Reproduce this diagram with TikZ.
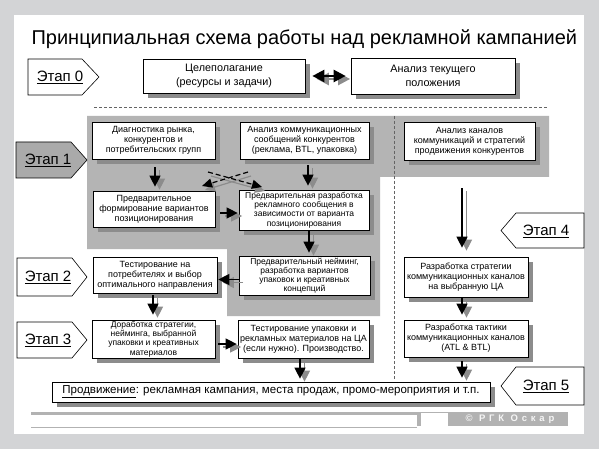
\documentclass[tikz,border=0pt]{standalone}
\usepackage{fontspec}
\setmainfont{Liberation Sans}
\newfontfamily\spacedfont[LetterSpace=40]{Liberation Sans}
\usetikzlibrary{arrows.meta,shadows}
\definecolor{outerbg}{RGB}{211,212,214}
\definecolor{regiongray}{RGB}{180,180,180}
\definecolor{etapgray}{RGB}{170,170,170}
\definecolor{shgray}{RGB}{140,140,140}
\definecolor{stripgray}{RGB}{178,178,178}
\definecolor{dashgray}{RGB}{100,100,100}
\tikzset{
  box/.style={draw=black, fill=white, line width=0.7pt, inner sep=1pt, align=center,
     font=\fontsize{9}{10}\selectfont,
     general shadow={fill=shgray, shadow xshift=5pt, shadow yshift=-5pt}},
  boxfour/.style={box, font=\fontsize{8.5}{9.2}\selectfont},
  bigbox/.style={box, font=\fontsize{10.8}{14.5}\selectfont},
  arr/.style={line width=1.3pt, -{Triangle[width=11pt,length=11pt]}, shorten >=4pt, shorten <=5pt},
  arrsh/.style={draw=shgray},
  etap/.style={draw=black, line width=0.6pt, fill=white},
  etaptext/.style={font=\fontsize{15}{16}\selectfont},
  dashline/.style={draw=dashgray, line width=0.6pt, dash pattern=on 3pt off 2pt},
}
\newcommand\sarr[3][]{%
  \draw[arr,arrsh,#1,transform canvas={shift={(4.5pt,-3pt)}}] #2 -- #3;
  \draw[arr,#1] #2 -- #3;}
\begin{document}
\begin{tikzpicture}[x=1pt,y=-1pt]
\useasboundingbox (0,0) rectangle (599,449);
% backgrounds
\fill[outerbg] (0,0) rectangle (599,449);
\fill[white] (14,15) rectangle (584,434);
\fill[regiongray] (87,116) -- (549,116) -- (549,177) -- (380,177) -- (380,316)
   -- (227,316) -- (227,249) -- (87,249) -- cycle;
\draw[dashline] (94,107) -- (547,107);
\draw[dashline] (394,116) -- (394,380);

% title
\node[anchor=base west, font=\fontsize{20}{22}\selectfont] (title) at (28,45)
  {Принципиальная схема работы над рекламной кампанией};

% stage labels
\draw[etap] (28,59) -- (82,59) -- (99,77) -- (82,95) -- (28,95) -- cycle;
\node[etaptext] (e0) at (60,77) {\underline{Этап 0}};
\draw[etap, fill=etapgray] (16,142) -- (71,142) -- (87,160) -- (71,178) -- (16,178) -- cycle;
\node[etaptext] (e1) at (48,160) {\underline{Этап 1}};
\draw[etap] (17,258) -- (72,258) -- (87,277) -- (72,296) -- (17,296) -- cycle;
\node[etaptext] (e2) at (48,277) {\underline{Этап 2}};
\draw[etap] (17,322) -- (72,322) -- (87,340) -- (72,358) -- (17,358) -- cycle;
\node[etaptext] (e3) at (48,340) {\underline{Этап 3}};
\draw[etap] (584,213) -- (516,213) -- (501,230.5) -- (516,248) -- (584,248) -- cycle;
\node[etaptext] (e4) at (546,231) {\underline{Этап 4}};
\draw[etap] (584,367) -- (516,367) -- (501,386) -- (516,405) -- (584,405) -- cycle;
\node[etaptext] (e5) at (546,386) {\underline{Этап 5}};

% boxes
\node[bigbox, minimum width=162pt, minimum height=34pt] (cel) at (224,76)
  {Целеполагание\\(ресурсы и задачи)};
\node[bigbox, minimum width=164pt, minimum height=36pt] (tek) at (433,76)
  {Анализ текущего\\положения};
\node[box, minimum width=123pt, minimum height=37pt] (diag) at (153.5,140.5)
  {Диагностика рынка,\\конкурентов и\\потребительских групп};
\node[box, minimum width=129pt, minimum height=37pt] (komm) at (304.5,140.5)
  {Анализ коммуникационных\\сообщений конкурентов\\(реклама, BTL, упаковка)};
\node[box, minimum width=131pt, minimum height=38pt] (kan) at (469.5,141)
  {Анализ каналов\\коммуникаций и стратегий\\продвижения конкурентов};
\node[box, minimum width=122pt, minimum height=36pt] (form) at (154,209)
  {Предварительное\\формирование вариантов\\позиционирования};
\node[boxfour, minimum width=130pt, minimum height=40pt] (razr) at (304,210)
  {Предварительная разработка\\рекламного сообщения в\\зависимости от варианта\\позиционирования};
\node[boxfour, minimum width=131pt, minimum height=39pt] (neim) at (304.5,275.5)
  {Предварительный нейминг,\\разработка вариантов\\упаковок и креативных\\концепций};
\node[box, minimum width=124pt, minimum height=36pt] (test) at (155,275)
  {Тестирование на\\потребителях и выбор\\оптимального направления};
\node[boxfour, minimum width=123pt, minimum height=38pt] (dor) at (153.5,339)
  {Доработка стратегии,\\нейминга, выбранной\\упаковки и креативных\\материалов};
\node[box, minimum width=131pt, minimum height=38pt] (tup) at (303.5,339)
  {Тестирование упаковки и\\рекламных материалов на ЦА\\(если нужно). Производство.};
\node[box, minimum width=124pt, minimum height=40pt] (str) at (466,277)
  {Разработка стратегии\\коммуникационных каналов\\на выбранную ЦА};
\node[box, minimum width=124pt, minimum height=37pt] (tak) at (466,338.5)
  {Разработка тактики\\коммуникационных каналов\\(ATL \& BTL)};
\node[box, font=\fontsize{11.5}{13}\selectfont, minimum width=438pt, minimum height=20pt] (prod) at (271,392)
  {\underline{Продвижение}: рекламная кампания, места продаж, промо-мероприятия и т.п.};

% connectors
\sarr[{{Triangle[width=12pt,length=12pt]}-{Triangle[width=12pt,length=12pt]}}, line width=2.4pt, shorten <=7pt, shorten >=5pt]{(cel.east)}{(tek.west)}
\sarr[shorten <=8pt]{([xshift=1.5pt]diag.south)}{([xshift=1.5pt]diag.south |- form.north)}
\sarr[shorten <=6pt]{([xshift=3.5pt]komm.south)}{([xshift=3.5pt]komm.south |- razr.north)}
\sarr[shorten <=5pt, shorten >=1pt]{([yshift=-4pt]form.east)}{([yshift=-4pt]form.east -| razr.west)}
\sarr[shorten <=1pt, shorten >=3pt]{([xshift=5pt]razr.south)}{([xshift=5pt]razr.south |- neim.north)}
\sarr[shorten <=0pt, shorten >=1pt]{([yshift=-4pt]neim.west)}{([yshift=-4pt]neim.west -| test.east)}
\sarr[shorten <=2pt, shorten >=5pt]{([xshift=-2pt]test.south)}{([xshift=-2pt]test.south |- dor.north)}
\sarr[shorten <=3pt, shorten >=1pt]{([yshift=-5pt]dor.east)}{([yshift=-5pt]dor.east -| tup.west)}
\sarr[shorten <=1pt, shorten >=3pt]{([xshift=-3.5pt]tup.south)}{([xshift=-3.5pt]tup.south |- prod.north)}
\coordinate (k0) at (462,188);
\sarr[shorten <=0pt, shorten >=9pt]{(k0)}{(k0 |- str.north)}
\sarr[shorten <=0pt, shorten >=5pt]{([xshift=-4pt]str.south)}{([xshift=-4pt]str.south |- tak.north)}
\sarr[shorten <=4pt, shorten >=4pt]{([xshift=-4pt]tak.south)}{([xshift=-4pt]tak.south |- prod.north)}

% crossed dashed connectors
\coordinate (xa1) at (208,172);
\coordinate (xa2) at (262,187);
\coordinate (xb1) at (248,172);
\coordinate (xb2) at (202,186);
\draw[draw=shgray, line width=1.2pt, -{Triangle[width=9pt,length=10pt]}, transform canvas={shift={(3pt,-4pt)}}] (xa1) -- (xa2);
\draw[draw=shgray, line width=1.2pt, -{Triangle[width=9pt,length=10pt]}, transform canvas={shift={(3pt,-4pt)}}] (xb1) -- (xb2);
\draw[line width=1.2pt, dash pattern=on 5pt off 3pt, -{Triangle[width=9pt,length=10pt]}] (xa1) -- (xa2);
\draw[line width=1.2pt, dash pattern=on 5pt off 3pt, -{Triangle[width=9pt,length=10pt]}] (xb1) -- (xb2);

% footer strip
\fill[stripgray] (31,412) rectangle (568,426);
\fill[white] (31,414.5) rectangle (417,426);
\fill[white] (421,413) rectangle (448,426);
\draw[stripgray, line width=0.6pt] (31,427) -- (417,427);
\node[text=white!92!gray, font=\spacedfont\fontsize{9.5}{10}\selectfont\bfseries] (copy) at (510,419.5) {© РГК Оскар};
\end{tikzpicture}
\end{document}
